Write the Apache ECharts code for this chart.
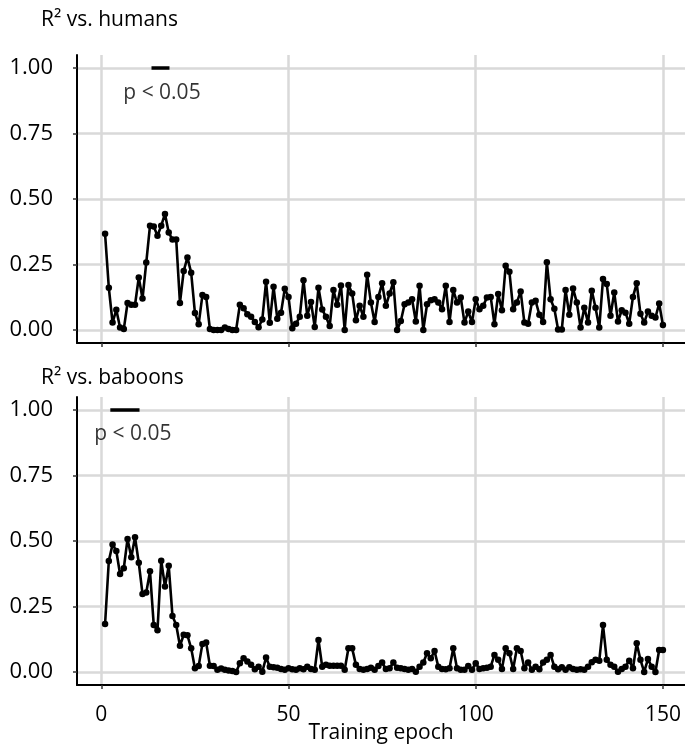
<!DOCTYPE html>
<html>
<head>
<meta charset="utf-8">
<title>R² vs. training epoch</title>
<script src="https://cdn.jsdelivr.net/npm/echarts@6/dist/echarts.min.js"></script>
<style>
  html, body { margin: 0; padding: 0; background: #ffffff; }
  #main { width: 685px; height: 746px; }
</style>
</head>
<body>
<div id="main"></div>
<script>
// R² per epoch
var humans = [
  0.367, 0.161, 0.028, 0.077, 0.009, 0.003, 0.103, 0.096, 0.096, 0.200,
  0.120, 0.257, 0.398, 0.395, 0.360, 0.398, 0.443, 0.372, 0.345, 0.345,
  0.103, 0.225, 0.277, 0.218, 0.065, 0.022, 0.133, 0.126, 0.003, 0.000,
  0.000, 0.000, 0.009, 0.003, 0.000, 0.000, 0.096, 0.083, 0.060, 0.050,
  0.030, 0.010, 0.040, 0.184, 0.027, 0.165, 0.043, 0.066, 0.157, 0.126,
  0.006, 0.024, 0.050, 0.190, 0.054, 0.107, 0.011, 0.161, 0.078, 0.050,
  0.015, 0.152, 0.096, 0.170, 0.000, 0.172, 0.139, 0.037, 0.092, 0.050,
  0.211, 0.105, 0.030, 0.126, 0.178, 0.092, 0.139, 0.182, 0.000, 0.034,
  0.098, 0.105, 0.117, 0.032, 0.169, 0.000, 0.098, 0.113, 0.117, 0.105,
  0.079, 0.169, 0.030, 0.152, 0.105, 0.124, 0.028, 0.070, 0.030, 0.117,
  0.079, 0.092, 0.124, 0.126, 0.022, 0.137, 0.075, 0.245, 0.222, 0.079,
  0.105, 0.147, 0.028, 0.024, 0.105, 0.111, 0.058, 0.030, 0.258, 0.117,
  0.081, 0.002, 0.002, 0.152, 0.058, 0.158, 0.105, 0.009, 0.085, 0.028,
  0.150, 0.085, 0.009, 0.194, 0.175, 0.054, 0.143, 0.032, 0.075, 0.066,
  0.024, 0.126, 0.178, 0.062, 0.028, 0.070, 0.054, 0.047, 0.101, 0.019
];

var baboons = [
  0.183, 0.424, 0.487, 0.462, 0.374, 0.396, 0.508, 0.438, 0.514, 0.417,
  0.298, 0.303, 0.384, 0.179, 0.159, 0.425, 0.326, 0.405, 0.214, 0.179,
  0.100, 0.142, 0.140, 0.090, 0.014, 0.023, 0.107, 0.112, 0.024, 0.023,
  0.008, 0.013, 0.008, 0.005, 0.003, 0.000, 0.033, 0.052, 0.040, 0.027,
  0.010, 0.020, 0.001, 0.055, 0.020, 0.018, 0.016, 0.011, 0.008, 0.014,
  0.010, 0.008, 0.014, 0.010, 0.020, 0.011, 0.008, 0.122, 0.020, 0.027,
  0.024, 0.024, 0.024, 0.024, 0.008, 0.090, 0.090, 0.027, 0.011, 0.008,
  0.011, 0.016, 0.008, 0.023, 0.036, 0.011, 0.014, 0.036, 0.016, 0.014,
  0.011, 0.008, 0.011, 0.001, 0.020, 0.036, 0.071, 0.052, 0.080, 0.020,
  0.011, 0.010, 0.014, 0.090, 0.014, 0.008, 0.008, 0.023, 0.008, 0.033,
  0.011, 0.014, 0.016, 0.020, 0.065, 0.046, 0.011, 0.090, 0.071, 0.011,
  0.090, 0.080, 0.014, 0.036, 0.008, 0.020, 0.010, 0.036, 0.046, 0.065,
  0.020, 0.010, 0.018, 0.008, 0.018, 0.011, 0.008, 0.010, 0.008, 0.020,
  0.037, 0.046, 0.043, 0.179, 0.046, 0.027, 0.020, 0.001, 0.011, 0.020,
  0.043, 0.014, 0.109, 0.046, 0.000, 0.049, 0.020, 0.000, 0.084, 0.084
];

// epochs where p < 0.05 (bar ends) and where the note sits
var sigHumans = [13.4, 18.2];
var sigBaboons = [2.4, 10.2];
var noteHumans = [16.2, 0.905];
var noteBaboons = [8.4, 0.908];

var xTicks = [0, 50, 100, 150];
var yTicks = [0, 0.25, 0.5, 0.75, 1];
var panelTitles = ['R² vs. humans', 'R² vs. baboons'];

var FONT = 'Open Sans';
var INK = '#000000';
var GRID = '#d9d9d9';

function pairs(vals) {
  var out = [];
  for (var i = 0; i < vals.length; i++) out.push([i + 1, vals[i]]);
  return out;
}

function xAxisFor(idx, withLabels) {
  return {
    type: 'value', gridIndex: idx, min: -6.5, max: 155.9,
    axisLine: { show: true, onZero: false, lineStyle: { color: '#000', width: 2 } },
    axisTick: { show: true, length: 4, customValues: xTicks, lineStyle: { color: '#333', width: 1.5 } },
    axisLabel: { show: withLabels, customValues: xTicks, margin: 20, fontFamily: FONT, fontSize: 21, color: INK },
    splitLine: { show: true, lineStyle: { color: GRID, width: 2.5 } },
    name: withLabels ? 'Training epoch' : '',
    nameLocation: 'middle', nameGap: 38, nameMoveOverlap: false,
    nameTextStyle: { fontFamily: FONT, fontSize: 21, color: INK }
  };
}

function yAxisFor(idx) {
  return {
    type: 'value', gridIndex: idx, min: -0.05, max: 1.05,
    axisLine: { show: true, onZero: false, lineStyle: { color: '#000', width: 2 } },
    axisTick: { show: true, length: 4, customValues: yTicks, lineStyle: { color: '#333', width: 1.5 } },
    axisLabel: {
      customValues: yTicks, margin: 24, fontFamily: FONT, fontSize: 22, color: INK,
      formatter: function (v) { return v.toFixed(2); }
    },
    splitLine: { show: true, lineStyle: { color: GRID, width: 2.5 } }
  };
}

function dataSeries(idx, vals) {
  return {
    type: 'line', xAxisIndex: idx, yAxisIndex: idx,
    data: pairs(vals), z: 3,
    symbol: 'circle', symbolSize: 6.5, showSymbol: true,
    lineStyle: { color: '#000', width: 2.6 },
    itemStyle: { color: '#000' },
    silent: true, animation: false
  };
}

function sigSeries(idx, span) {
  return {
    type: 'line', xAxisIndex: idx, yAxisIndex: idx,
    data: [[span[0], 1], [span[1], 1]], z: 4,
    symbol: 'none', lineStyle: { color: '#000', width: 3.5 },
    silent: true, animation: false
  };
}

function noteSeries(idx, pos) {
  return {
    type: 'scatter', xAxisIndex: idx, yAxisIndex: idx,
    data: [pos], symbolSize: 0, z: 5,
    label: {
      show: true, position: 'inside', formatter: 'p < 0.05',
      fontFamily: FONT, fontSize: 21, color: INK
    },
    silent: true, animation: false
  };
}

var myChart = echarts.init(document.getElementById('main'), null, { renderer: 'canvas' });

var option = {
  backgroundColor: '#ffffff',
  animation: false,
  title: [
    { text: panelTitles[0], left: 36, top: 5, textStyle: { fontFamily: FONT, fontSize: 21, fontWeight: 'normal', color: INK } },
    { text: panelTitles[1], left: 36, top: 363, textStyle: { fontFamily: FONT, fontSize: 21, fontWeight: 'normal', color: INK } }
  ],
  grid: [
    { left: 77, right: 0, top: 55, height: 288, outerBoundsMode: 'none' },
    { left: 77, right: 0, top: 397, height: 288, outerBoundsMode: 'none' }
  ],
  xAxis: [xAxisFor(0, false), xAxisFor(1, true)],
  yAxis: [yAxisFor(0), yAxisFor(1)],
  series: [
    dataSeries(0, humans), sigSeries(0, sigHumans), noteSeries(0, noteHumans),
    dataSeries(1, baboons), sigSeries(1, sigBaboons), noteSeries(1, noteBaboons)
  ]
};

myChart.setOption(option);

window.addEventListener('resize', function () {
  myChart.resize();
});
</script>
</body>
</html>
